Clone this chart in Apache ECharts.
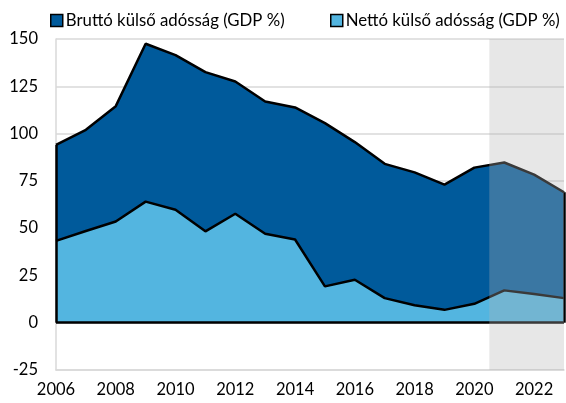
<!DOCTYPE html>
<html>
<head>
<meta charset="utf-8">
<script src="https://cdn.jsdelivr.net/npm/echarts@6/dist/echarts.min.js"></script>
<style>
  html, body { margin: 0; padding: 0; background: #fff; }
  #main { width: 566px; height: 403px; }
</style>
</head>
<body>
<div id="main"></div>
<script>
var years = [2006, 2007, 2008, 2009, 2010, 2011, 2012, 2013, 2014, 2015, 2016, 2017, 2018, 2019, 2020, 2021, 2022, 2023];
var brutto = [94, 102, 114.5, 147.5, 141.5, 132.5, 127.5, 117, 113.8, 105.5, 95.5, 84, 79.5, 73, 82, 84.7, 78.3, 69];
var netto = [43.3, 48.5, 53.5, 64, 59.7, 48.3, 57.6, 47, 44, 19.2, 22.7, 13, 9.2, 6.8, 10, 17.1, 15.2, 13];
var yearLabels = [2006, 2008, 2010, 2012, 2014, 2016, 2018, 2020, 2022];
var names = ["Bruttó külső adósság (GDP %)", "Nettó külső adósság (GDP %)"];
var colors = ["#005a9b", "#53b5e0"];
var forecastFrom = 2020.5;

var pairs = function (arr) {
  return years.map(function (y, i) { return [y, arr[i]]; });
};

var myChart = echarts.init(document.getElementById("main"));
var font = "Lato, 'Open Sans', sans-serif";

// one legend per item so each can sit where the original has it
var legendItem = function (i, left) {
  return {
    left: left,
    top: 12,
    padding: 0,
    itemWidth: 12,
    itemHeight: 12,
    icon: "rect",
    textStyle: { fontSize: 16.8, color: "#000", fontFamily: font, padding: [0, 0, 0, -2] },
    data: [{ name: names[i], itemStyle: { color: colors[i], borderColor: "#000", borderWidth: 1.5 } }],
  };
};

myChart.setOption({
  animation: false,
  backgroundColor: "#ffffff",
  textStyle: { fontFamily: font },
  legend: [legendItem(0, 50), legendItem(1, 330)],
  grid: { left: 56, right: 2, top: 39, bottom: 33 },
  xAxis: {
    type: "value",
    min: years[0],
    max: years[years.length - 1],
    axisLine: { show: true, onZero: false, lineStyle: { color: "#d9d9d9", width: 1.5 } },
    axisTick: { show: false },
    splitLine: { show: false },
    axisLabel: {
      customValues: yearLabels,
      formatter: function (v) { return String(v); },
      fontSize: 16.5,
      color: "#000",
      margin: 11,
      fontFamily: font,
    },
  },
  yAxis: {
    type: "value",
    min: -25,
    max: 150,
    interval: 25,
    axisLine: { show: true, lineStyle: { color: "#d9d9d9", width: 1.5 } },
    axisTick: { show: false },
    splitLine: { lineStyle: { color: "#d9d9d9", width: 1.5 } },
    axisLabel: { fontSize: 16.5, color: "#000", margin: 18, fontFamily: font },
  },
  series: [
    {
      name: names[0],
      type: "line",
      data: pairs(brutto),
      symbol: "none",
      z: 2,
      itemStyle: { color: colors[0] },
      lineStyle: { color: "#000", width: 2.5 },
      areaStyle: { color: colors[0], opacity: 1, origin: 0 },
    },
    {
      name: names[1],
      type: "line",
      data: pairs(netto),
      symbol: "none",
      z: 3,
      itemStyle: { color: colors[1] },
      lineStyle: { color: "#000", width: 2.5 },
      areaStyle: { color: colors[1], opacity: 1, origin: 0 },
      markLine: {
        silent: true,
        symbol: "none",
        label: { show: false },
        lineStyle: { color: "#000", width: 2.5, type: "solid" },
        data: [
          [{ coord: [years[0], 0] }, { coord: [years[years.length - 1], 0] }],
          [{ coord: [years[0], 0] }, { coord: [years[0], brutto[0]] }],
          [{ coord: [years[years.length - 1], 0] }, { coord: [years[years.length - 1], brutto[brutto.length - 1]] }],
        ],
      },
    },
    {
      // grey band over the forecast years, drawn on top of the areas
      name: "forecast",
      type: "line",
      data: [],
      z: 10,
      markArea: {
        silent: true,
        z: 20,
        itemStyle: { color: "rgba(181,181,181,0.32)" },
        data: [[{ xAxis: forecastFrom }, { xAxis: years[years.length - 1] }]],
      },
    },
  ],
});
</script>
</body>
</html>
